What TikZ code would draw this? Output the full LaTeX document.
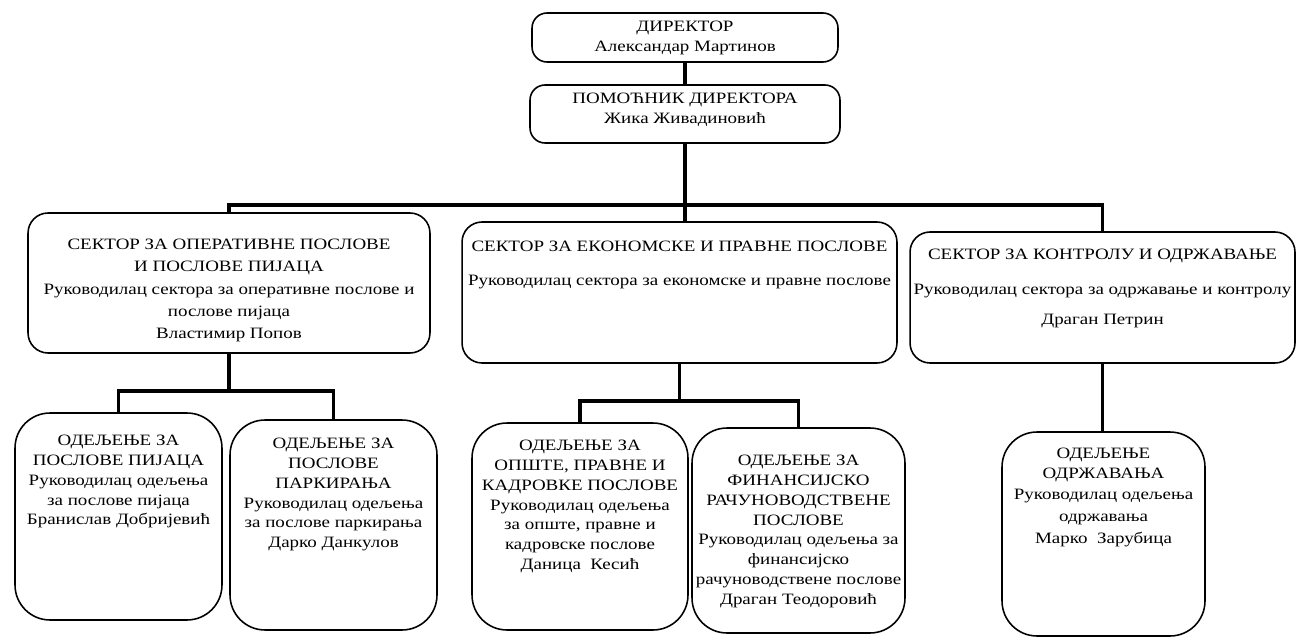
\documentclass[tikz,border=0pt]{standalone}
\usepackage{fontspec}
\setmainfont{Liberation Serif}[FakeStretch=1.2]

\newcommand{\orgbox}[4]{\parbox[c][#2][t]{#1}{\centering\vspace*{#3}#4}}

\tikzset{
    unit/.style={draw, line width=0.9pt, rounded corners=#1, inner sep=0pt,
        font=\fontsize{9}{11.3}\selectfont},
    unit/.default=0.4cm,
    conn/.style={line width=2.2pt}
}

\begin{document}
\begin{tikzpicture}[x=0.02cm, y=-0.02cm]
        \useasboundingbox (0, 0) rectangle (1297, 638);

        \node[unit=0.3cm] (dir) at (685, 37.5)
            {\orgbox{6.12cm}{0.98cm}{0.16cm}{ДИРЕКТОР\\Александар Мартинов}};
        \node[unit=0.3cm] (pom) at (685, 114)
            {\orgbox{6.2cm}{1.16cm}{0.16cm}{ПОМОЋНИК ДИРЕКТОРА\\Жика Живадиновић}};

        \node[unit] (sec1) at (229, 283)
            {\orgbox{8.04cm}{2.8cm}{0.52cm}{СЕКТОР ЗА ОПЕРАТИВНЕ ПОСЛОВЕ\\[1.4pt]И ПОСЛОВЕ ПИЈАЦА\\[1.4pt]
            Руководилац сектора за оперативне послове и\\[1.4pt]послове пијаца\\[1.4pt]Властимир Попов}};
        \node[unit] (sec2) at (679.5, 292.5)
            {\orgbox{8.7cm}{2.82cm}{0.38cm}{СЕКТОР ЗА ЕКОНОМСКЕ И ПРАВНЕ ПОСЛОВЕ\\[8pt]
            Руководилац сектора за економске и правне послове}};
        \node[unit] (sec3) at (1102.5, 297.5)
            {\orgbox{7.7cm}{2.62cm}{0.34cm}{СЕКТОР ЗА КОНТРОЛУ И ОДРЖАВАЊЕ\\[8.5pt]
            Руководилац сектора за одржавање и контролу\\[5.7pt]Драган Петрин}};

        \node[unit=0.7cm] (dep1) at (118.5, 516.5)
            {\orgbox{4.14cm}{4.14cm}{0.44cm}{ОДЕЉЕЊЕ ЗА\\ПОСЛОВЕ ПИЈАЦА\\Руководилац одељења\\
            за послове пијаца\\Бранислав Добријевић}};
        \node[unit=0.7cm] (dep2) at (333.5, 525)
            {\orgbox{4.14cm}{4.2cm}{0.36cm}{ОДЕЉЕЊЕ ЗА\\ПОСЛОВЕ\\ПАРКИРАЊА\\Руководилац одељења\\
            за послове паркирања\\Дарко Данкулов}};
        \node[unit=0.7cm] (dep3) at (580, 526.5)
            {\orgbox{4.32cm}{4.14cm}{0.34cm}{ОДЕЉЕЊЕ ЗА\\ОПШТЕ, ПРАВНЕ И\\КАДРОВКЕ ПОСЛОВЕ\\
            Руководилац одељења\\за опште, правне и\\кадровске послове\\Даница~ Кесић}};
        \node[unit=0.7cm] (dep4) at (798.5, 530.5)
            {\orgbox{4.26cm}{4.1cm}{0.54cm}{ОДЕЉЕЊЕ ЗА\\ФИНАНСИЈСКО\\РАЧУНОВОДСТВЕНЕ\\ПОСЛОВЕ\\
            Руководилац одељења за\\финансијско\\рачуноводствене послове\\Драган Теодоровић}};
        \node[unit=0.7cm] (dep5) at (1103.5, 534)
            {\orgbox{4.06cm}{4.08cm}{0.32cm}{ОДЕЉЕЊЕ\\ОДРЖАВАЊА\\[1pt]Руководилац одељења\\[1pt]
            одржавања\\[1pt]Марко~ Зарубица}};

        \coordinate (bar) at (685, 205);

        \draw[conn] (dir.south) -- (pom.north);
        \draw[conn] (pom.south) -- (pom.south |- sec2.north);
        \draw[conn] (sec1.north) |- (bar) -| (sec3.north);

        \draw[conn] (sec1.south) -- ++(0, 37) coordinate (bar1);
        \draw[conn] (dep1.north) |- (bar1) -| (dep2.north);

        \draw[conn] (sec2.south) -- ++(0, 37) coordinate (bar2);
        \draw[conn] (dep3.north) |- (bar2) -| (dep4.north);

        \draw[conn] (sec3.south) -- (sec3.south |- dep5.north);
    \end{tikzpicture}
\end{document}
